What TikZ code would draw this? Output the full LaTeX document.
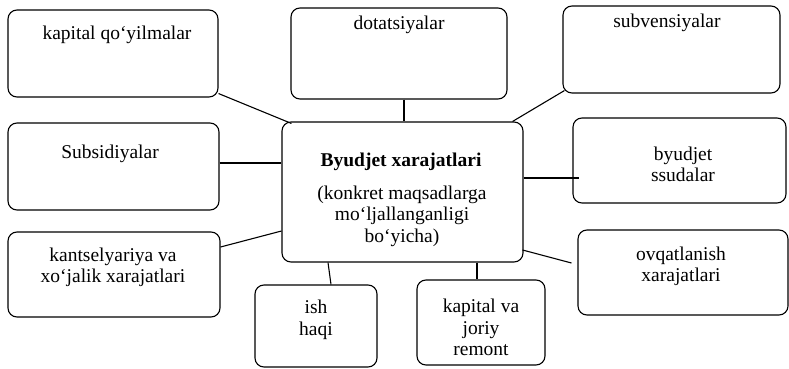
\documentclass[tikz,border=0pt]{standalone}
\usepackage{fontspec}
\setmainfont{Liberation Serif}
\usetikzlibrary{calc}
\begin{document}
\begin{tikzpicture}[x=1pt,y=-1pt,
  box/.style={draw, rounded corners=9pt, line width=1.1pt, inner sep=0pt},
  lbl/.style={font=\fontsize{19.5}{21.5}\selectfont, align=center, inner sep=0pt},
  conn/.style={line width=1.1pt}]
\useasboundingbox (0,0) rectangle (789,369);
% boxes
\node[box, minimum width=210pt, minimum height=87pt] (b1) at (113,53.5) {};
\node[box, minimum width=216pt, minimum height=91pt] (b2) at (399,53.5) {};
\node[box, minimum width=217pt, minimum height=87pt] (b3) at (671.5,49.5) {};
\node[box, minimum width=211pt, minimum height=87pt] (b4) at (113.5,166.5) {};
\node[box, minimum width=241pt, minimum height=140pt] (ctr) at (402.5,192) {};
\node[box, minimum width=213pt, minimum height=85pt] (b6) at (679.5,160.5) {};
\node[box, minimum width=212pt, minimum height=85pt] (b7) at (114,274.5) {};
\node[box, minimum width=122pt, minimum height=82pt] (b8) at (316,326) {};
\node[box, minimum width=128pt, minimum height=85pt] (b9) at (481,322.5) {};
\node[box, minimum width=210pt, minimum height=85pt] (b10) at (683,272.5) {};
% labels
\node[lbl] (t1) at (117,35) {kapital qo‘yilmalar};
\node[lbl] (t2) at (399,25) {dotatsiyalar};
\node[lbl] (t3) at (667,23) {subvensiyalar};
\node[lbl] (t4) at (110,154) {Subsidiyalar};
\node[lbl, font=\fontsize{19.5}{21.5}\selectfont\bfseries] (tc1) at (401,162) {Byudjet xarajatlari};
\node[lbl] (tc2) at (402,216) {(konkret maqsadlarga\\mo‘ljallanganligi\\bo‘yicha)};
\node[lbl] (t6) at (683,164.5) {byudjet\\ssudalar};
\node[lbl] (t7) at (113,267.5) {kantselyariya va\\xo‘jalik xarajatlari};
\node[lbl] (t8) at (316,320) {ish\\haqi};
\node[lbl] (t9) at (481,327.5) {kapital va\\joriy\\remont};
\node[lbl] (t10) at (681,266.5) {ovqatlanish\\xarajatlari};
% connectors
\draw[conn] ($(b1.south east)+(0,-4)$) -- ($(ctr.north west)+(10,2)$);
\draw[conn] ($(b2.south)+(5,0)$) -- ($(ctr.north)+(1.5,0)$);
\draw[conn] ($(b3.south west)+(2,-3)$) -- ($(ctr.north east)+(-11,0)$);
\draw[conn] ($(b4.east)+(0,-3.5)$) -- ($(ctr.west)+(0,-29)$);
\draw[conn] ($(ctr.east)+(0,-14)$) -- ($(b6.west)+(7,17.5)$);
\draw[conn] ($(b7.east)+(0,-27.5)$) -- ($(ctr.west)+(0,39)$);
\draw[conn] ($(ctr.south)+(-74.5,0)$) -- ($(b8.north)+(15,0)$);
\draw[conn] ($(ctr.south)+(74.5,0)$) -- ($(b9.north)+(-4,0)$);
\draw[conn] ($(ctr.east)+(-1,58)$) -- ($(b10.west)+(-6,-9.5)$);
\end{tikzpicture}
\end{document}
